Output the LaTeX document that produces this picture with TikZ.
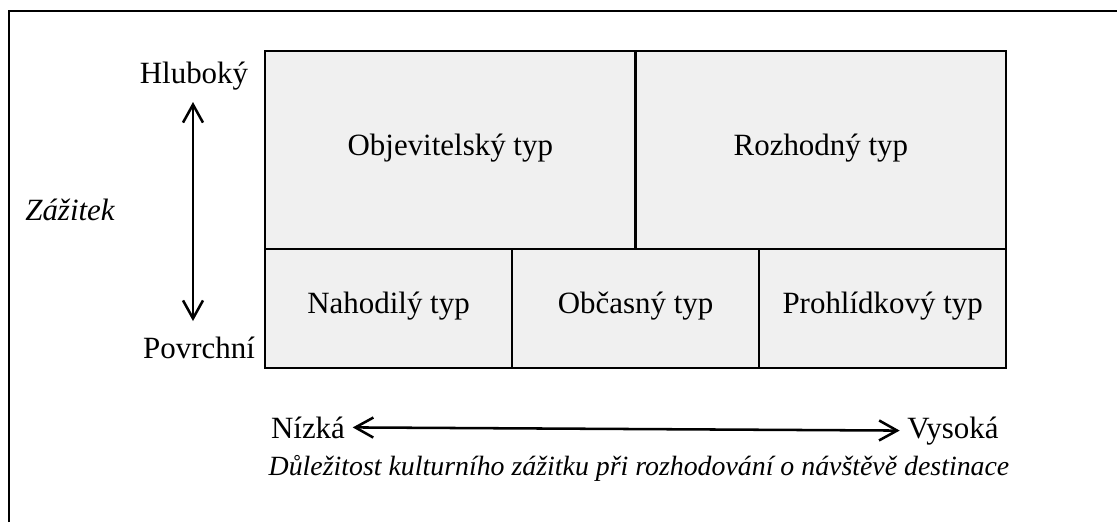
\documentclass[tikz,border=0pt]{standalone}
\usepackage{fontspec}
\setmainfont{Liberation Serif}
\usepackage{tikz}
\usetikzlibrary{arrows.meta, positioning}
\usepackage{xcolor}
\definecolor{cellgray}{HTML}{F0F0F0}
\tikzset{%
	every cell/.style={
		draw,
		fill=cellgray,
		line width=1.8pt,
		outer sep=0pt,
		inner sep=0pt,
		text height=1.6ex,
		text depth=0pt,
		font=\fontsize{22}{26}\selectfont
	},
	big cell/.style={
		every cell,
		minimum width=9.2625cm,
		minimum height=4.95cm
	},
	small cell/.style={
		every cell,
		minimum width=6.175cm,
		minimum height=2.975cm
	},
	axis label/.style={
		font=\fontsize{22}{26}\selectfont
	},
	axis arrow/.style={
		{Straight Barb[length=0.45cm,width=0.5cm]}-{Straight Barb[length=0.45cm,width=0.5cm]},
		line width=1.8pt
	},
}

\begin{document}
\begin{tikzpicture}[x=0.025cm, y=-0.025cm]
			\useasboundingbox (0,0) rectangle (1117,522);
			% Outer frame (cut off at right and bottom)
			\draw[line width=2pt] (9,522) -- (9,11) -- (1117,11);
			
			% Upper row of the grid
			\node[big cell, anchor=north west] (objev) at (265,51) {Objevitelský typ};
			\node[big cell, right=0cm of objev] (rozhod) {Rozhodný typ};
			
			% Lower row, placed below the upper row
			\node[small cell, anchor=north west] (nahod) at (objev.south west) {Nahodilý typ};
			\node[small cell, right=0cm of nahod] (obcas) {Občasný typ};
			\node[small cell, right=0cm of obcas] (prohl) {Prohlídkový typ};
			
			% Vertical axis
			\node[axis label, anchor=base] (hlub) at (194,83) {Hluboký};
			\node[axis label, anchor=base] (povrch) at (199,358) {Povrchní};
			\node[axis label, anchor=base, font=\fontsize{22}{26}\selectfont\itshape] (zazit) at (70,220) {Zážitek};
			\coordinate (vtop) at (193,102);
			\coordinate (vbot) at (193,321);
			\draw[axis arrow] (vtop) -- (vbot);
			
			% Horizontal axis
			\node[axis label, anchor=base] (nizka) at (308,438) {Nízká};
			\node[axis label, anchor=base] (vysoka) at (953,438) {Vysoká};
			\draw[axis arrow, shorten <=2pt, shorten >=2pt] (nizka.east) -- (vysoka.west);
			\node[anchor=base, font=\fontsize{19.8}{24}\selectfont\itshape] (popis) at (639,475) {Důležitost kulturního zážitku při rozhodování o návštěvě destinace};
		\end{tikzpicture}
\end{document}
